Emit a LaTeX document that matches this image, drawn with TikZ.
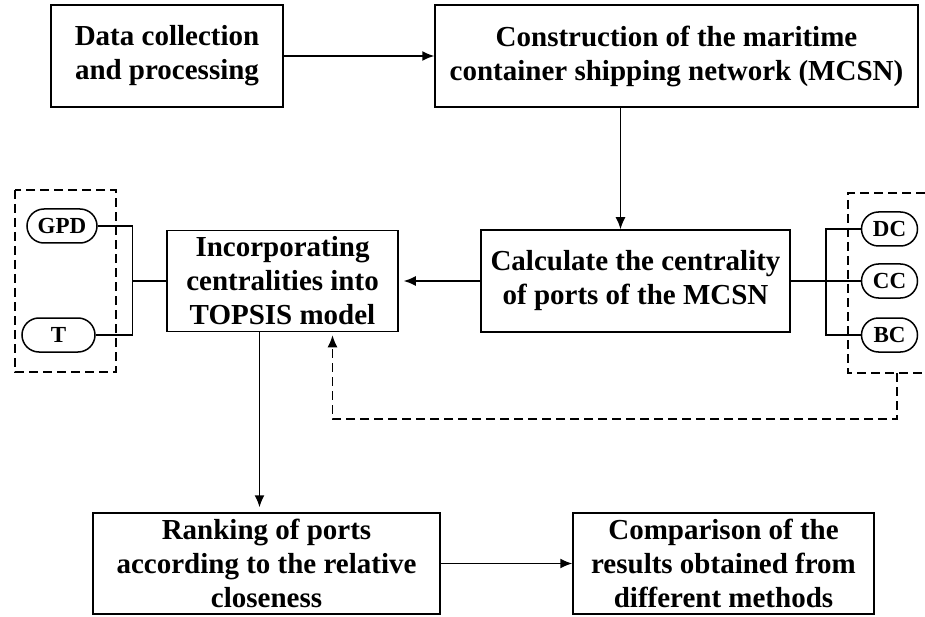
\documentclass[tikz,border=0pt]{standalone}
\usepackage{fontspec}
\setmainfont{Liberation Serif}
\usepackage{tikz}
\usetikzlibrary{arrows.meta, positioning, calc}

\begin{document}
\begin{tikzpicture}[x=1pt, y=-1pt, line width=1.5pt,
  box/.style={draw, align=center, inner sep=0pt, font=\fontsize{29}{34}\selectfont\bfseries},
  pill/.style={draw, rounded corners=17pt, minimum height=34pt, inner sep=0pt, font=\fontsize{23}{24}\selectfont\bfseries},
  arrow/.style={-{Latex[length=12pt,width=10pt]}},
  dashbox/.style={dash pattern=on 9pt off 5pt}]
  \useasboundingbox (0,0) rectangle (925,617);

  % Main steps
  \node[box, minimum width=232pt, minimum height=102pt] (data) at (167,56) {Data collection\\and processing};
  \node[box, minimum width=483pt, minimum height=102pt] (mcsn) at (676.5,56) {Construction of the maritime\\container shipping network (MCSN)};
  \node[box, minimum width=309pt, minimum height=102pt] (calc) at (635.5,281) {Calculate the centrality\\of ports of the MCSN};
  \node[box, minimum width=231pt, minimum height=101pt] (topsis) at (282.5,281) {Incorporating\\centralities into\\TOPSIS model};
  \node[box, minimum width=347pt, minimum height=101pt] (rank) at (266.5,563.5) {Ranking of ports\\according to the relative\\closeness};
  \node[box, minimum width=301pt, minimum height=101pt] (comp) at (723.5,563.5) {Comparison of the\\results obtained from\\different methods};

  % Indicators
  \node[pill, minimum width=70pt] (gpd) at (62,226) {GPD};
  \node[pill, minimum width=73pt] (t) at (58.5,335) {T};
  \node[pill, minimum width=56pt] (dc) at (889.5,229) {DC};
  \node[pill, minimum width=56pt] (cc) at (889.5,281) {CC};
  \node[pill, minimum width=56pt] (bc) at (889.5,335) {BC};

  % Dashed groups
  \draw[dashbox] (15,190) rectangle (116,372);
  \draw[dashbox] (925,193) -| (848,373) -- (925,373);

  % Left bracket
  \coordinate (lj) at ($(topsis.west)+(-34,0)$);
  \draw (gpd.east) -| (lj);
  \draw (t.east) -| (lj);
  \draw (lj) -- (topsis.west);

  % Right bracket
  \coordinate (rj) at ($(calc.east)+(35,0)$);
  \draw (calc.east) -- (cc.west);
  \draw (dc.west) -| (rj |- bc.west) -- (bc.west);

  % Flow arrows
  \draw[arrow] (data.east) -- (mcsn.west);
  \coordinate (down1) at ($(calc.north)+(-15,0)$);
  \draw[arrow] (down1 |- mcsn.south) -- (down1);
  \draw[arrow, shorten >=5pt] (calc.west) -- (topsis.east);
  \coordinate (down2) at ($(rank.north)+(-7,0)$);
  \draw[arrow, shorten >=5pt] (down2 |- topsis.south) -- (down2);
  \draw[arrow] (rank.east) -- (comp.west);

  % Feedback from centralities
  \coordinate (fb) at ($(topsis.south)+(50,0)$);
  \coordinate (rb) at (897,373);
  \draw[dashbox, arrow, shorten >=3pt] (rb) -- ++(0,46) -| (fb);
\end{tikzpicture}
\end{document}
